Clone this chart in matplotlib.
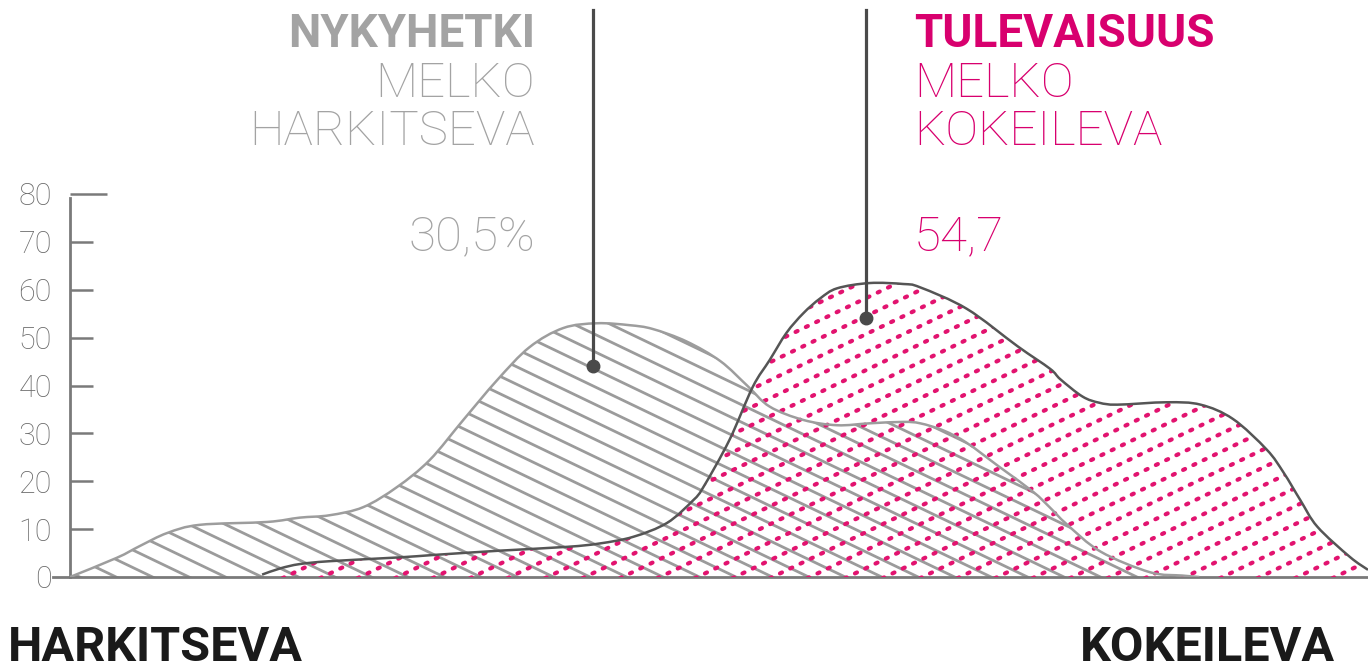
import numpy as np
import matplotlib
matplotlib.use("Agg")
import matplotlib.pyplot as plt
from matplotlib.patches import PathPatch
from matplotlib.path import Path
from matplotlib.collections import LineCollection
from matplotlib.ticker import FixedLocator, FixedFormatter

# ---------------- data ----------------
yticks_major = [0, 10, 20, 30, 40, 50, 60, 70]
ytick_top = [80]

now_x = [0, 3.6, 5.4, 7.5, 10, 15.2, 17.7, 20, 22.6, 25.2, 27.7, 30.3, 32.9,
         35.4, 38, 40.6, 43.1, 44.9, 47.5, 50.1, 52.2, 53.9, 56.5, 59.1, 61.6,
         64.2, 65.5, 67.3, 69.1, 71.6, 74.2, 75.5, 76.8, 79.4, 83.2, 85.7, 87]
now_y = [0, 4, 6.5, 9.2, 10.9, 11.5, 12.4, 12.9, 14.6, 18.8, 24.4, 32.8, 41.1,
         48, 52, 53, 52.6, 51.8, 49.2, 45.1, 39.9, 35.6, 32.8, 31.7, 32.1, 32.4,
         32.1, 30.6, 28, 23, 17.8, 14.5, 11, 5.3, 1, 0.3, 0]

fut_x = [14.8, 16.2, 17.7, 20, 25.4, 28, 33.1, 38.3, 40.8, 43.4, 46, 48, 48.8,
         50.8, 52.6, 53.9, 55.2, 56.5, 57.8, 59.1, 61.6, 64.2, 65.5, 69.1, 73,
         75.5, 76.3, 78, 79.3, 80.7, 84.5, 87.1, 89.6, 92.2, 93.5, 94.8, 96.1,
         98.6, 100]
fut_y = [0.5, 1.8, 2.7, 3.3, 4.1, 4.6, 5.5, 6.3, 7, 8.4, 11.3, 16, 18.8, 28.6,
         39.7, 45.3, 51, 55.1, 58.2, 60.3, 61.4, 61.2, 60.5, 56, 48.2, 43.5,
         41.3, 37.7, 36.4, 36, 36.5, 36, 33, 26.6, 21.8, 16, 10.5, 4.2, 1.5]

now_title = "NYKYHETKI"
now_sub = ["MELKO", "HARKITSEVA"]
now_value = "30,5%"
fut_title = "TULEVAISUUS"
fut_sub = ["MELKO", "KOKEILEVA"]
fut_value = "54,7"
left_label = "HARKITSEVA"
right_label = "KOKEILEVA"

# ---------------- style ----------------
GRAY_TXT = "#a3a3a3"
PINK = "#d8006e"
DOT_PINK = "#e2136f"
HATCH_GRAY = "#9b9b9b"
DARK = "#555555"
AXIS = "#7a7a7a"
FONT = "Roboto"

plt.rcParams["lines.scale_dashes"] = False

FW, FH = 1368, 671
fig = plt.figure(figsize=(FW / 100, FH / 100), dpi=100)
L, B, R, T = 70, 577, 1368, 194
ax = fig.add_axes([L / FW, 1 - B / FH, (R - L) / FW, (B - T) / FH])
ax.set_xlim(0, 100)
ax.set_ylim(0, 80)
pxx = (R - L) / 100.0
pxy = (B - T) / 80.0

for s in ["top", "right"]:
    ax.spines[s].set_visible(False)
ax.spines["left"].set_color(AXIS)
ax.spines["left"].set_linewidth(2.0)
ax.spines["left"].set_bounds(0, 79.2)
ax.spines["bottom"].set_color(AXIS)
ax.spines["bottom"].set_linewidth(2.0)
ax.spines["bottom"].set_bounds(-1.3, 100)
ax.set_xticks([])

ax.yaxis.set_major_locator(FixedLocator(yticks_major))
ax.yaxis.set_major_formatter(FixedFormatter([str(v) for v in yticks_major]))
ax.yaxis.set_minor_locator(FixedLocator(ytick_top))
ax.yaxis.set_minor_formatter(FixedFormatter([str(v) for v in ytick_top]))
for which, ln in (("major", 16.5), ("minor", 26.5)):
    ax.tick_params(axis="y", which=which, direction="in", length=ln, width=1.8,
                   color=AXIS, pad=13, labelsize=22, labelcolor="#6a6a6a")
for lab in ax.get_yticklabels(which="both"):
    lab.set_fontfamily(FONT)
    lab.set_fontweight("light")
ax.yaxis.get_major_ticks()[0].tick1line.set_visible(False)


def smooth_path(xs, ys, closed=False):
    pts = np.column_stack([xs, ys]).astype(float)
    n = len(pts)
    verts = [pts[0]]
    codes = [Path.MOVETO]
    for i in range(n - 1):
        p0 = pts[i - 1] if i > 0 else pts[i]
        p1, p2 = pts[i], pts[i + 1]
        p3 = pts[i + 2] if i + 2 < n else pts[i + 1]
        c1 = p1 + (p2 - p0) / 6.0
        c2 = p2 - (p3 - p1) / 6.0
        verts += [c1, c2, p2]
        codes += [Path.CURVE4] * 3
    if closed:
        verts += [(xs[-1], 0), (xs[0], 0), (xs[0], ys[0])]
        codes += [Path.LINETO, Path.LINETO, Path.CLOSEPOLY]
    return Path(np.array(verts), codes)


def region(xs, ys):
    p = PathPatch(smooth_path(xs, ys, closed=True), facecolor="none",
                  edgecolor="none")
    ax.add_patch(p)
    return p


def pattern(clip, slope_px, spacing_px, **kw):
    m = slope_px * pxx / pxy
    sp = spacing_px / pxy
    lo = min(0, -m * 110) - 10
    hi = 90 + max(0, -m * 110)
    segs = []
    for c in np.arange(lo, hi, sp):
        segs.append([(-5, c + m * -5), (105, c + m * 105)])
    lc = LineCollection(segs, **kw)
    ax.add_collection(lc)
    lc.set_clip_path(clip)
    return lc


now_poly = region(now_x, now_y)
fut_poly = region(fut_x, fut_y)

pattern(now_poly, -0.48, 17.5, colors=HATCH_GRAY, linewidths=2.0, zorder=2)
pattern(fut_poly, 0.48, 18.0, colors=DOT_PINK, linewidths=3.0,
        linestyles=[(0, (1.6, 6.6))], capstyle="round", zorder=3)

ax.add_patch(PathPatch(smooth_path(now_x, now_y), facecolor="none",
                       edgecolor="#9d9d9d", lw=1.8, zorder=4))
ax.add_patch(PathPatch(smooth_path(fut_x, fut_y), facecolor="none",
                       edgecolor=DARK, lw=1.8, zorder=5))

# pointer lines
for (xp, yp) in [(40.3, 44.1), (61.3, 54.0)]:
    ax.plot([xp, xp], [yp, (B - 10) / pxy], color="#4a4a4a", lw=2.3,
            clip_on=False, zorder=6)
    ax.plot([xp], [yp], "o", ms=9, color="#4a4a4a", clip_on=False, zorder=6)


# texts
def ftxt(x, y, s, **kw):
    fig.text(x / FW, 1 - y / FH, s, family=FONT, **kw)


ftxt(535, 47, now_title, ha="right", va="baseline", fontsize=33,
     fontweight="bold", color=GRAY_TXT)
ftxt(535, 97, now_sub[0], ha="right", va="baseline", fontsize=35.5,
     fontweight="light", color=GRAY_TXT)
ftxt(535, 145, now_sub[1], ha="right", va="baseline", fontsize=35.5,
     fontweight="light", color=GRAY_TXT)
ftxt(535, 250, now_value, ha="right", va="baseline", fontsize=35.5,
     fontweight="light", color=GRAY_TXT)

ftxt(914, 47, fut_title, ha="left", va="baseline", fontsize=33,
     fontweight="bold", color=PINK)
ftxt(914, 97, fut_sub[0], ha="left", va="baseline", fontsize=35.5,
     fontweight="light", color=PINK)
ftxt(914, 145, fut_sub[1], ha="left", va="baseline", fontsize=35.5,
     fontweight="light", color=PINK)
ftxt(914, 250, fut_value, ha="left", va="baseline", fontsize=35.5,
     fontweight="light", color=PINK)

ftxt(8, 661, left_label, ha="left", va="baseline", fontsize=35,
     fontweight="bold", color="#1a1a1a")
ftxt(1335, 661, right_label, ha="right", va="baseline", fontsize=35,
     fontweight="bold", color="#1a1a1a")

fig.savefig("out.png", dpi=100)
